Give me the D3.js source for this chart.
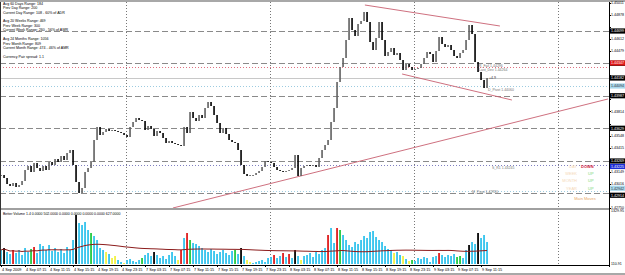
<!DOCTYPE html>
<html lang="en">
<head>
<meta charset="UTF-8">
<title>EURUSD M30 chart</title>
<script src="https://d3js.org/d3.v7.min.js"></script>
<style>
    body { margin: 0; background: #fff; }
    svg { display: block; }
    text { font-family: "Liberation Sans", Arial, sans-serif; }
</style>
</head>
<body>
<svg width="625" height="275"></svg>
<script>
// close prices, one per bar
const closes = [
    1.43115, 1.43082, 1.43016, 1.42994, 1.43027, 1.42983, 1.43005, 1.43049, 1.43170, 1.43214,
    1.43148, 1.43247, 1.43192, 1.43159, 1.43214, 1.43170, 1.43258, 1.43225, 1.43291, 1.43258,
    1.43324, 1.43280, 1.43357, 1.43390, 1.43225, 1.43038, 1.42917, 1.42972, 1.43148, 1.43192,
    1.43258, 1.43500, 1.43643, 1.43555, 1.43588, 1.43621, 1.43599, 1.43610, 1.43599, 1.43588,
    1.43577, 1.43555, 1.43533, 1.43643, 1.43698, 1.43742, 1.43720, 1.43709, 1.43610, 1.43654,
    1.43621, 1.43544, 1.43599, 1.43577, 1.43522, 1.43467, 1.43489, 1.43467, 1.43456, 1.43445,
    1.43434, 1.43643, 1.43577, 1.43808, 1.43742, 1.43709, 1.43775, 1.43742, 1.43852, 1.43918,
    1.43874, 1.43775, 1.43687, 1.43577, 1.43632, 1.43566, 1.43500, 1.43478, 1.43467, 1.43390,
    1.43225, 1.43126, 1.43104, 1.43115, 1.43115, 1.43137, 1.43159, 1.43203, 1.43269, 1.43258,
    1.43247, 1.43203, 1.43170, 1.43159, 1.43148, 1.43159, 1.43170, 1.43192, 1.43335, 1.43104,
    1.43192, 1.43214, 1.43225, 1.43214, 1.43225, 1.43203, 1.43302, 1.43390, 1.43445, 1.43500,
    1.43698, 1.43852, 1.44138, 1.44303, 1.44402, 1.44600, 1.44842, 1.44710, 1.44644, 1.44776,
    1.44809, 1.44908, 1.44798, 1.44578, 1.44490, 1.44622, 1.44798, 1.44600, 1.44424, 1.44468,
    1.44512, 1.44435, 1.44457, 1.44380, 1.44270, 1.44336, 1.44303, 1.44270, 1.44281, 1.44292,
    1.44336, 1.44402, 1.44468, 1.44446, 1.44358, 1.44479, 1.44633, 1.44556, 1.44523, 1.44545,
    1.44490, 1.44424, 1.44402, 1.44457, 1.44490, 1.44600, 1.44765, 1.44666, 1.44358, 1.44248,
    1.44160, 1.44072, 1.44182
];

// tick volume per bar and its Better Volume colour code
const volumes = [
    433, 479, 387, 341, 433, 364, 433, 318, 479, 387, 456, 502, 364, 571, 525, 433, 548, 410, 479, 387,
    456, 364, 502, 433, 663, 1238, 1054, 1008, 1077, 893, 824, 755, 663, 479, 433, 387, 341, 249, 295, 203,
    157, 134, 203, 226, 180, 157, 203, 249, 318, 364, 295, 387, 318, 249, 295, 226, 318, 387, 295, 203,
    433, 709, 824, 663, 594, 571, 525, 479, 433, 387, 456, 410, 341, 387, 433, 364, 318, 410, 433, 341,
    479, 295, 203, 157, 134, 157, 180, 203, 157, 249, 272, 318, 249, 295, 364, 272, 341, 249, 433, 295,
    203, 295, 318, 364, 272, 387, 341, 433, 479, 778, 939, 594, 939, 893, 778, 663, 548, 502, 617, 571,
    663, 755, 709, 847, 870, 732, 663, 617, 525, 456, 433, 364, 387, 318, 295, 226, 180, 203, 180, 249,
    226, 272, 249, 157, 272, 295, 364, 318, 272, 318, 295, 341, 272, 295, 249, 433, 548, 617, 571, 824,
    709, 778, 617
];
const volKinds = (
    "bkbbrbbbbbgrbbbbbbbb" + "bbbbbkbbbbgbbbbybyyb" + "bybbbbbgbbbkbbbbbbby" + "rbrgbbbbbbbbbbbbbbgb" +
    "kbyybbbbbbbrbbrbrbkb" + "ybbbbbbbbrbbrgbbbbbb" + "bbbbbbbbbbbybbybygbb" + "bbbbbbrbbbbbggbbkbbk" +
    "bbb"
).split("");

const timeLabels = [
    "4 Sep 2009", "4 Sep 07:15", "4 Sep 11:15", "4 Sep 15:15", "4 Sep 19:15", "4 Sep 23:15",
    "7 Sep 03:15", "7 Sep 07:15", "7 Sep 11:15", "7 Sep 15:15", "7 Sep 19:15", "7 Sep 23:15",
    "8 Sep 03:15", "8 Sep 07:15", "8 Sep 11:15", "8 Sep 15:15", "8 Sep 19:15", "8 Sep 23:15",
    "9 Sep 03:15", "9 Sep 07:15", "9 Sep 11:15"
];
const dayBreaks = [41.5, 89.5, 137.5, 185.5];   // bar index of midnight

const priceTicks = [
    1.42750, 1.42883, 1.43016, 1.43149, 1.43282, 1.43415, 1.43548, 1.43681, 1.43814,
    1.43947, 1.44080, 1.44213, 1.44346, 1.44479, 1.44612, 1.44745, 1.44878, 1.45011
];
const pivotLevels = [1.44699, 1.44344, 1.43987, 1.43629, 1.43269, 1.42914];
const resistLevel = 1.44347;
const resistDotted = 1.44306;
const lightLevels = [1.44094, 1.42942];
const supportLevel = 1.43225;

// trend lines as [bar index, price] pairs
const trendUp = [[57.3, 1.42752], [202.3, 1.43951]];
const channelTop = [[121.3, 1.44985], [166.3, 1.44754]];
const channelBottom = [[133.7, 1.44226], [170.3, 1.43940]];

const infoLines = [
    "Avg 60 Days Range: 184", "Prev Day Range: 200", "Current Day Range: 108 - 60% of ADR", "",
    "Avg 20 Weeks Range: 469", "Prev Week Range: 300", "Current Week Range: 260 - 56% of AWR", "",
    "Avg 24 Months Range: 1056", "Prev Month Range: 809", "Current Month Range: 474 - 46% of AMR", "",
    "Currency Pair spread: 1.1"
];
const moves = [["DAY", "DOWN"], ["WEEK", "UP"], ["MONTH", "UP"], ["YEAR", "UP"]];
const volTitle = "Better Volume 1.4 0.0000 502.0000 0.0000 0.0000 0.0000 0.0000 627.0000";
const volTicks = [1329.95, 110.91];

const svg = d3.select("svg");
const W = 625, H = 275;
const plotR = 609;
const mainTop = 2, mainBot = 208, volTop = 210, volBot = 265;

const x = d3.scaleLinear().domain([0, 203]).range([1, 610]);
const y = d3.scaleLinear().domain([1.42752, 1.4504]).range([208, 0]);
const yv = d3.scaleLinear().domain([110.91, 1329.95]).range([264, 211]);

svg.append("rect").attr("width", W).attr("height", H).attr("fill", "#fff");

const main = svg.append("g");
const clip = svg.append("clipPath").attr("id", "mainclip");
clip.append("rect").attr("x", 0).attr("y", mainTop).attr("width", plotR).attr("height", mainBot - mainTop);

// day separators
svg.append("g").selectAll("line").data(dayBreaks).join("line")
    .attr("x1", d => Math.round(x(d)) + 0.5).attr("x2", d => Math.round(x(d)) + 0.5)
    .attr("y1", mainTop).attr("y2", volBot)
    .attr("stroke", "#777").attr("stroke-dasharray", "1,2");

// horizontal levels
const lev = main.append("g").attr("clip-path", "url(#mainclip)");
lev.selectAll(".piv").data(pivotLevels).join("line")
    .attr("x1", 0).attr("x2", plotR)
    .attr("y1", d => Math.round(y(d)) + 0.5).attr("y2", d => Math.round(y(d)) + 0.5)
    .attr("stroke", "#8a8a8a").attr("stroke-width", 1.2).attr("stroke-dasharray", "6,3");
lev.append("line").attr("x1", 0).attr("x2", plotR)
    .attr("y1", Math.round(y(resistDotted)) + 0.5).attr("y2", Math.round(y(resistDotted)) + 0.5)
    .attr("stroke", "#e07080").attr("stroke-dasharray", "1,2");
lev.selectAll(".lt").data(lightLevels).join("line")
    .attr("x1", 0).attr("x2", plotR)
    .attr("y1", d => Math.round(y(d)) + 0.5).attr("y2", d => Math.round(y(d)) + 0.5)
    .attr("stroke", "#9ccbe0").attr("stroke-dasharray", "1,2");
lev.append("line").attr("x1", 0).attr("x2", plotR)
    .attr("y1", Math.round(y(supportLevel)) + 0.5).attr("y2", Math.round(y(supportLevel)) + 0.5)
    .attr("stroke", "#8080c0").attr("stroke-dasharray", "1,2");
const last = closes[closes.length - 1];
lev.append("line").attr("x1", 0).attr("x2", plotR)
    .attr("y1", Math.round(y(last)) + 0.5).attr("y2", Math.round(y(last)) + 0.5)
    .attr("stroke", "#c8c8c8");

// trend lines
const tl = d3.line().x(d => x(d[0])).y(d => y(d[1]));
lev.selectAll(".trend").data([trendUp, channelTop, channelBottom]).join("path")
    .attr("d", tl).attr("fill", "none").attr("stroke", "#c86070").attr("stroke-width", 0.9);

// bars
const bars = closes.map((c, i) => ({ i, o: i ? closes[i - 1] : c, c }));
lev.selectAll(".bar").data(bars).join("rect")
    .attr("x", d => x(d.i) - 0.75)
    .attr("width", 1.6)
    .attr("y", d => y(Math.max(d.o, d.c)))
    .attr("height", d => Math.max(1, Math.abs(y(d.o) - y(d.c))))
    .attr("fill", d => d.c >= d.o ? "#606060" : "#000");

// top-left info text
main.append("g").selectAll("text").data(infoLines).join("text")
    .attr("x", 3).attr("y", (d, i) => 4.6 + i * 4.45)
    .attr("font-size", 3.6).attr("fill", "#000").text(d => d);

// annotations near price
const ann = main.append("g").attr("font-size", 3.5).attr("fill", "#777");
ann.append("text").attr("x", 479).attr("y", 67).text("R_Fail 1.44296");
ann.append("text").attr("x", 479).attr("y", 71).text("Last_Dev 1.44264");
ann.append("text").attr("x", 489).attr("y", 78.5).attr("fill", "#333").text("+4.9");
ann.append("text").attr("x", 488).attr("y", 90.5).text("D_Pivot 1.44060");
ann.append("text").attr("x", 492).attr("y", 169).text("S_R1 1.43245");
ann.append("text").attr("x", 472).attr("y", 193).text("M_Pivot 1.42920");

// main moves block
const mv = main.append("g").attr("font-size", 4);
mv.selectAll(".k").data(moves).join("text")
    .attr("x", 577).attr("y", (d, i) => 167.5 + i * 7.4).attr("text-anchor", "end")
    .attr("fill", "#f5d9b8").text(d => d[0]);
mv.selectAll(".v").data(moves).join("text")
    .attr("x", 588).attr("y", (d, i) => 167.5 + i * 7.4)
    .attr("fill", d => d[1] === "DOWN" ? "#d01c3c" : "#7ad87a")
    .attr("font-weight", d => d[1] === "DOWN" ? "bold" : null)
    .attr("dx", d => d[1] === "DOWN" ? -7 : 0)
    .text(d => d[1]);
mv.append("text").attr("x", 585).attr("y", 199.5).attr("text-anchor", "middle")
    .attr("fill", "#e8a868").text("Main Moves");

// volume panel
const volColor = { b: "#3ec6ee", k: "#111", r: "#e02828", g: "#2fcc4a", y: "#f2f24a" };
const vol = svg.append("g");
vol.selectAll("rect").data(volumes).join("rect")
    .attr("x", (d, i) => x(i) - 0.9)
    .attr("width", 1.9)
    .attr("y", d => yv(d))
    .attr("height", d => 264 - yv(d))
    .attr("fill", (d, i) => volColor[volKinds[i]] || volColor.b);

const win = 90;
const ma = volumes.map((v, i) => d3.mean(volumes.slice(Math.max(0, i - win + 1), i + 1)));
vol.append("path")
    .attr("d", d3.line().x((d, i) => x(i)).y(d => yv(d))(ma))
    .attr("fill", "none").attr("stroke", "#8c1c1c").attr("stroke-width", 1);

vol.append("text").attr("x", 3).attr("y", 214.5).attr("font-size", 3.5).attr("fill", "#000").text(volTitle);

// frames
svg.append("rect").attr("x", 0).attr("y", 0).attr("width", W).attr("height", 2).attr("fill", "#a8a8a8");
svg.append("rect").attr("x", 0).attr("y", mainBot).attr("width", plotR).attr("height", 2).attr("fill", "#a0a0a0");
svg.append("line").attr("x1", 0.5).attr("x2", 0.5).attr("y1", 2).attr("y2", volBot).attr("stroke", "#333");
svg.append("line").attr("x1", plotR + 0.5).attr("x2", plotR + 0.5).attr("y1", 2).attr("y2", volBot + 2).attr("stroke", "#000");
svg.append("line").attr("x1", 0).attr("x2", plotR + 1).attr("y1", volBot + 0.5).attr("y2", volBot + 0.5).attr("stroke", "#000");
svg.append("rect").attr("x", 0).attr("y", 273).attr("width", W).attr("height", 2).attr("fill", "#a8a8a8");

// right price axis
const tagPrices = pivotLevels.concat([resistLevel, last, supportLevel], lightLevels);
const freeTicks = priceTicks.filter(p => tagPrices.every(t => Math.abs(y(t) - y(p)) > 5));
const ax = svg.append("g").attr("font-size", 3.6);
ax.selectAll("text").data(freeTicks).join("text")
    .attr("x", plotR + 2).attr("y", d => y(d) + 1.3).attr("fill", "#000")
    .text(d => d.toFixed(5));
ax.selectAll(".tk").data(priceTicks).join("line")
    .attr("x1", plotR).attr("x2", plotR + 2)
    .attr("y1", d => Math.round(y(d)) + 0.5).attr("y2", d => Math.round(y(d)) + 0.5).attr("stroke", "#000");

function tag(p, bg, fg, dy) {
    const yy = y(p) + (dy || 0);
    ax.append("rect").attr("x", plotR + 1).attr("y", yy - 2.6).attr("width", 16).attr("height", 5.2).attr("fill", bg);
    ax.append("text").attr("x", plotR + 2).attr("y", yy + 1.3).attr("fill", fg).text(p.toFixed(5));
}
pivotLevels.forEach((p, i) => tag(p, "#000", "#fff", i === 5 ? 2 : 0));
tag(resistLevel, "#e01818", "#fff");
tag(last, "#000", "#fff");
tag(lightLevels[0], "#a8d8ec", "#333");
tag(lightLevels[1], "#a8d8ec", "#333", -2.5);
tag(supportLevel, "#1c2cd8", "#fff", 1.5);

// volume axis
ax.selectAll(".vt").data(volTicks).join("text")
    .attr("x", plotR + 2).attr("y", d => yv(d) + 1.3).attr("fill", "#000").text(d => d.toFixed(2));

// time axis
const tx = svg.append("g").attr("font-size", 3.8);
tx.selectAll("text").data(timeLabels).join("text")
    .attr("x", (d, i) => x(i * 8) + 1).attr("y", 271.3).attr("fill", "#000").text(d => d);
tx.selectAll("line").data(timeLabels).join("line")
    .attr("x1", (d, i) => Math.round(x(i * 8)) + 0.5).attr("x2", (d, i) => Math.round(x(i * 8)) + 0.5)
    .attr("y1", volBot).attr("y2", volBot + 2).attr("stroke", "#000");
</script>
</body>
</html>
